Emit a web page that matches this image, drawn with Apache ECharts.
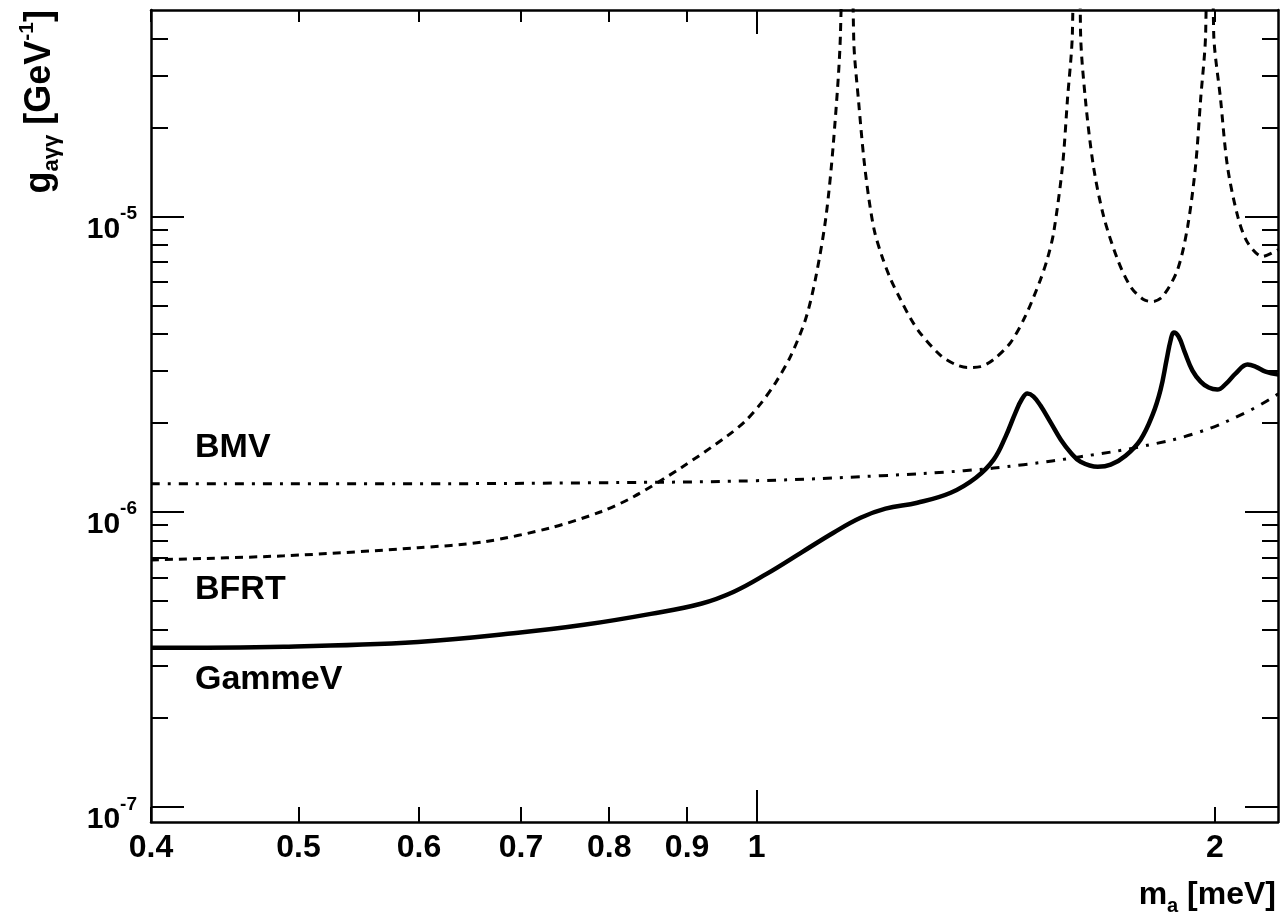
<!DOCTYPE html>
<html>
<head>
<meta charset="utf-8">
<title>GammeV / BFRT / BMV limits</title>
<script src="https://cdn.jsdelivr.net/npm/echarts@6.0.0/dist/echarts.min.js"></script>
<style>
  html, body { margin: 0; padding: 0; background: #fff; }
  #myChart { width: 1284px; height: 920px; }
</style>
</head>
<body>
<div id="myChart"></div>
<script>
// axion mass m_a [meV] and coupling g_ayy [GeV^-1]
const gammevMass = [0.400, 0.489, 0.599, 0.697, 0.770, 0.852, 0.919, 0.966, 1.015, 1.069,
  1.123, 1.170, 1.215, 1.275, 1.341, 1.393, 1.431, 1.457, 1.479, 1.493,
  1.506, 1.520, 1.536, 1.560, 1.584, 1.608, 1.632, 1.675, 1.708, 1.747,
  1.787, 1.820, 1.842, 1.859, 1.870, 1.879, 1.893, 1.910, 1.933, 1.957,
  1.981, 2.007, 2.034, 2.063, 2.101, 2.126, 2.159, 2.202];
const gammevCoupling = [3.46e-7, 3.49e-7, 3.62e-7, 3.89e-7, 4.14e-7, 4.51e-7, 4.88e-7, 5.36e-7, 6.16e-7, 7.26e-7,
  8.49e-7, 9.54e-7, 1.024e-6, 1.073e-6, 1.160e-6, 1.304e-6, 1.501e-6, 1.796e-6, 2.166e-6, 2.398e-6,
  2.512e-6, 2.454e-6, 2.288e-6, 2.003e-6, 1.754e-6, 1.585e-6, 1.477e-6, 1.420e-6, 1.443e-6, 1.548e-6,
  1.754e-6, 2.132e-6, 2.592e-6, 3.276e-6, 3.800e-6, 4.045e-6, 3.920e-6, 3.486e-6, 3.006e-6, 2.759e-6,
  2.633e-6, 2.592e-6, 2.716e-6, 2.936e-6, 3.150e-6, 3.101e-6, 2.983e-6, 2.913e-6];

// BFRT: the three resonances run off the top of the plot
const bfrtMass = [0.400, 0.489, 0.599, 0.662, 0.732, 0.790, 0.830, 0.892, 0.957, 0.9835,
  1.006, 1.029, 1.053, 1.077, 1.093, 1.110, 1.123, 1.135, 1.148, 1.158,
  1.167, 1.176, 1.185, 1.195, 1.208, 1.224, 1.243, 1.262, 1.281, 1.321,
  1.351, 1.375, 1.403, 1.431, 1.468, 1.502, 1.536, 1.553, 1.567, 1.588,
  1.600, 1.612, 1.625, 1.632, 1.644, 1.664, 1.690, 1.726, 1.760, 1.795,
  1.820, 1.848, 1.890, 1.919, 1.942, 1.957, 1.972, 1.987, 1.996, 2.017,
  2.038, 2.070, 2.101, 2.149, 2.202];
const bfrtCoupling = [6.87e-7, 7.09e-7, 7.55e-7, 7.91e-7, 8.82e-7, 1.00e-6, 1.124e-6, 1.41e-6, 1.81e-6, 2.035e-6,
  2.323e-6, 2.737e-6, 3.379e-6, 4.511e-6, 6.163e-6, 9.845e-6, 1.781e-5, 4.172e-5, 1e-3, 3.98e-5,
  2.397e-5, 1.561e-5, 1.142e-5, 8.897e-6, 7.376e-6, 6.163e-6, 5.23e-6, 4.511e-6, 4.013e-6, 3.379e-6,
  3.150e-6, 3.08e-6, 3.10e-6, 3.28e-6, 3.74e-6, 4.62e-6, 6.11e-6, 7.261e-6, 8.83e-6, 1.48e-5,
  2.49e-5, 4.20e-5, 1e-3, 4.20e-5, 2.49e-5, 1.48e-5, 1.00e-5, 7.15e-6, 5.79e-6, 5.23e-6,
  5.15e-6, 5.36e-6, 6.61e-6, 9.25e-6, 1.48e-5, 2.49e-5, 4.20e-5, 1e-3, 4.20e-5, 2.49e-5,
  1.48e-5, 1.00e-5, 8.16e-6, 7.32e-6, 7.73e-6];

const bmvMass = [0.400, 0.584, 0.790, 1.000, 1.206, 1.368, 1.497, 1.632, 1.787, 1.948, 2.101, 2.202];
const bmvCoupling = [1.244e-6, 1.244e-6, 1.254e-6, 1.274e-6, 1.324e-6, 1.377e-6, 1.443e-6, 1.536e-6,
  1.661e-6, 1.853e-6, 2.183e-6, 2.512e-6];

// ticks
const xLabelValues = [0.4, 0.5, 0.6, 0.7, 0.8, 0.9, 1, 2];
const xShortTicks = [0.4, 0.5, 0.6, 0.7, 0.8, 0.9, 2];
const xLongTicks = [1];
const yMajorTicks = [1e-7, 1e-6, 1e-5];
const yMinorTicks = [2e-7, 3e-7, 4e-7, 5e-7, 6e-7, 7e-7, 8e-7, 9e-7,
  2e-6, 3e-6, 4e-6, 5e-6, 6e-6, 7e-6, 8e-6, 9e-6,
  2e-5, 3e-5, 4e-5];

const FONT = '"Liberation Sans", Arial, Helvetica, sans-serif';

function pairs(xs, ys) {
  return xs.map((x, i) => [x, ys[i]]);
}

function makeX(position, ticks, len, withLine, withLabels) {
  return {
    type: 'log', logBase: 10, position: position, min: 0.4, max: 2.2,
    axisLine: { show: withLine, onZero: false, lineStyle: { color: '#000', width: 2.5 } },
    axisTick: { show: true, inside: true, length: len, customValues: ticks,
      lineStyle: { color: '#000', width: 2 } },
    axisLabel: withLabels ? {
      customValues: xLabelValues, margin: 10, color: '#000',
      fontFamily: FONT, fontWeight: 'bold', fontSize: 32,
      formatter: v => String(+(+v).toPrecision(3))
    } : { show: false },
    splitLine: { show: false }
  };
}

function makeY(position, ticks, len, withLine, withLabels) {
  return {
    type: 'log', logBase: 10, position: position, min: 8.9e-8, max: 5e-5,
    axisLine: { show: withLine, onZero: false, lineStyle: { color: '#000', width: 2.5 } },
    axisTick: { show: true, inside: true, length: len, customValues: ticks,
      lineStyle: { color: '#000', width: 2 } },
    axisLabel: withLabels ? {
      customValues: yMajorTicks, margin: 14, padding: [16, 0, 0, 0],
      formatter: v => '{b|10}{e|' + Math.round(Math.log10(v)) + '}',
      rich: {
        b: { fontFamily: FONT, fontWeight: 'bold', fontSize: 30, color: '#000',
          lineHeight: 40, verticalAlign: 'bottom' },
        e: { fontFamily: FONT, fontWeight: 'bold', fontSize: 19, color: '#000',
          verticalAlign: 'top' }
      }
    } : { show: false },
    splitLine: { show: false }
  };
}

let myChart = echarts.init(document.getElementById('myChart'));

myChart.setOption({
  animation: false,
  backgroundColor: '#fff',
  grid: { left: 151, right: 6, top: 10, bottom: 98 },
  xAxis: [
    makeX('bottom', xShortTicks, 15, true, true),
    makeX('bottom', xLongTicks, 32, false, false),
    makeX('top', xShortTicks, 12, true, false),
    makeX('top', xLongTicks, 24, false, false)
  ],
  yAxis: [
    makeY('left', yMajorTicks, 33, true, true),
    makeY('left', yMinorTicks, 17, false, false),
    makeY('right', yMajorTicks, 33, true, false),
    makeY('right', yMinorTicks, 16, false, false)
  ],
  series: [
    {
      name: 'BMV', type: 'line', xAxisIndex: 0, yAxisIndex: 0,
      data: pairs(bmvMass, bmvCoupling),
      symbol: 'none', smooth: 0.4,
      lineStyle: { color: '#000', width: 3, type: [9, 8, 3, 8] }
    },
    {
      name: 'BFRT', type: 'line', xAxisIndex: 0, yAxisIndex: 0,
      data: pairs(bfrtMass, bfrtCoupling),
      symbol: 'none', smooth: 0.3,
      lineStyle: { color: '#000', width: 3, type: [8, 6] }
    },
    {
      name: 'GammeV', type: 'line', xAxisIndex: 0, yAxisIndex: 0,
      data: pairs(gammevMass, gammevCoupling),
      symbol: 'none', smooth: 0.4,
      lineStyle: { color: '#000', width: 4.5 }
    }
  ],
  graphic: [
    { type: 'text', x: 195, y: 448,
      style: { text: 'BMV', font: 'bold 34px ' + FONT, fill: '#000', verticalAlign: 'middle' } },
    { type: 'text', x: 195, y: 590,
      style: { text: 'BFRT', font: 'bold 34px ' + FONT, fill: '#000', verticalAlign: 'middle' } },
    { type: 'text', x: 195, y: 680,
      style: { text: 'GammeV', font: 'bold 34px ' + FONT, fill: '#000', verticalAlign: 'middle' } },
    // x axis title
    { type: 'text', x: 1276, y: 895,
      style: {
        text: '{m|m}{s|a}{m| [meV]}', align: 'right', verticalAlign: 'middle',
        rich: {
          m: { fontFamily: FONT, fontWeight: 'bold', fontSize: 32, fill: '#000', lineHeight: 42 },
          s: { fontFamily: FONT, fontWeight: 'bold', fontSize: 20, fill: '#000', verticalAlign: 'bottom' }
        }
      } },
    // y axis title, reads bottom to top
    { type: 'text', x: 40, y: 10, rotation: Math.PI / 2,
      style: {
        text: '{g|g}{s|aγγ}{g| [GeV}{p|-1}{g|]}', align: 'right', verticalAlign: 'middle',
        rich: {
          g: { fontFamily: FONT, fontWeight: 'bold', fontSize: 36, fill: '#000', lineHeight: 46 },
          s: { fontFamily: FONT, fontWeight: 'bold', fontSize: 22, fill: '#000', verticalAlign: 'bottom' },
          p: { fontFamily: FONT, fontWeight: 'bold', fontSize: 21, fill: '#000', verticalAlign: 'top' }
        }
      } }
  ]
});
</script>
</body>
</html>
